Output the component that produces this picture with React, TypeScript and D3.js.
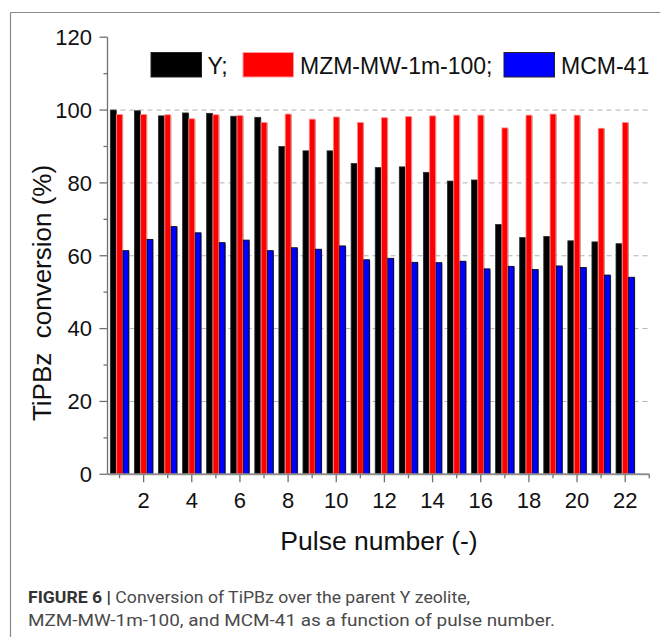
import * as d3 from "d3";

const pulses = [1, 2, 3, 4, 5, 6, 7, 8, 9, 10, 11, 12, 13, 14, 15, 16, 17, 18, 19, 20, 21, 22];
const seriesNames = ["Y;", "MZM-MW-1m-100;", "MCM-41"];
const yZeolite = [100.0, 99.8, 98.4, 99.2, 99.1, 98.3, 98.0, 90.0, 88.8, 88.8, 85.3, 84.2, 84.4, 82.9, 80.5, 80.8, 68.6, 65.0, 65.3, 64.1, 63.8, 63.3];
const mzm = [98.8, 98.8, 98.7, 97.6, 98.7, 98.5, 96.6, 98.9, 97.5, 98.1, 96.6, 97.9, 98.2, 98.4, 98.6, 98.6, 95.1, 98.6, 98.9, 98.6, 95.0, 96.6];
const mcm = [61.4, 64.5, 68.0, 66.3, 63.6, 64.3, 61.4, 62.2, 61.8, 62.7, 58.9, 59.3, 58.2, 58.1, 58.5, 56.4, 57.1, 56.2, 57.2, 56.8, 54.7, 54.1];
const yTicks = [0, 20, 40, 60, 80, 100, 120];
const yMinorTicks = [10, 30, 50, 70, 90, 110];
const xMajorTicks = [2, 4, 6, 8, 10, 12, 14, 16, 18, 20, 22];
const xMinorTicks = [1, 3, 5, 7, 9, 11, 13, 15, 17, 19, 21, 23];

const fills = ["#000000", "#ff0000", "#0000ff"];
const strokes = ["#2a2a2a", "#ff8c8c", "#000000"];

export default function App() {
  const width = 660;
  const height = 637;
  const left = 107.5;
  const right = 649.3;
  const bottom = 474.3;
  const top = 37.2;

  const x = d3.scaleLinear().domain([0.5, 23]).range([left, right]);
  const y = d3.scaleLinear().domain([0, 120]).range([bottom, top]);
  const inner = d3
    .scaleBand<number>()
    .domain([0, 1, 2])
    .range([-9.2, 9.2])
    .paddingInner(0.08);

  const series = [yZeolite, mzm, mcm];
  const font = "'Liberation Sans', Arial, sans-serif";
  const captionFont = "Roboto, 'Liberation Sans', sans-serif";

  // legend layout
  const legendSwatchX = [151, 243, 504];
  const legendTextX = [207.5, 300, 561];

  return (
    <div style={{ position: "absolute", left: 0, top: 0 }}>
      <svg width={width} height={height} style={{ display: "block" }} fontFamily={font}>
        <rect width={width} height={height} fill="#fff" />
        {/* figure frame */}
        <line x1={10.5} x2={width} y1={12.5} y2={12.5} stroke="#8a8a8a" strokeWidth={1.2} />
        <line x1={10.5} x2={10.5} y1={12.5} y2={height} stroke="#8a8a8a" strokeWidth={1.2} />

        {/* grid */}
        {yTicks
          .filter((t) => t > 0 && t < 120)
          .map((t) => (
            <line
              key={t}
              x1={left + 4}
              x2={right}
              y1={y(t)}
              y2={y(t)}
              stroke="#b0b0b0"
              strokeWidth={1}
              strokeDasharray="5 4"
            />
          ))}

        {/* bars */}
        {series.map((vals, si) =>
          vals.map((v, i) => {
            const bx = x(pulses[i]) + inner(si)!;
            const bw = inner.bandwidth();
            return (
              <g key={`${si}-${i}`}>
                <rect x={bx + 0.8} y={y(v) + 0.8} width={bw} height={bottom - y(v) - 0.8} fill="#9a9a9a" />
                <rect
                  x={bx}
                  y={y(v)}
                  width={bw}
                  height={bottom - y(v)}
                  fill={fills[si]}
                  stroke={strokes[si]}
                  strokeWidth={0.8}
                />
              </g>
            );
          })
        )}

        {/* y axis */}
        <line x1={left} x2={left} y1={top} y2={bottom} stroke="#707070" strokeWidth={1.3} />
        {yTicks.map((t) => (
          <g key={t}>
            <line x1={left - 8} x2={left} y1={y(t)} y2={y(t)} stroke="#707070" strokeWidth={1.3} />
            <text x={92} y={y(t) + 7.8} textAnchor="end" fontSize={22} fill="#111">
              {t}
            </text>
          </g>
        ))}
        {yMinorTicks.map((t) => (
          <line key={t} x1={left - 4} x2={left} y1={y(t)} y2={y(t)} stroke="#707070" strokeWidth={1.3} />
        ))}

        {/* x axis */}
        <line x1={left} x2={right} y1={bottom} y2={bottom} stroke="#909090" strokeWidth={2} />
        {xMajorTicks.map((t) => (
          <g key={t}>
            <line x1={x(t)} x2={x(t)} y1={bottom} y2={bottom + 8} stroke="#707070" strokeWidth={1.3} />
            <text x={x(t)} y={507.5} textAnchor="middle" fontSize={22} fill="#111">
              {t}
            </text>
          </g>
        ))}
        {xMinorTicks.map((t) => (
          <line key={t} x1={x(t)} x2={x(t)} y1={bottom} y2={bottom + 4} stroke="#707070" strokeWidth={1.3} />
        ))}

        {/* axis titles */}
        <text x={379} y={549.5} textAnchor="middle" fontSize={26.5} fill="#111">
          Pulse number (-)
        </text>
        <text
          transform="translate(50.5, 293) rotate(-90)"
          textAnchor="middle"
          fontSize={26}
          fill="#111"
          style={{ whiteSpace: "pre" }}
        >
          {"TiPBz  conversion (%)"}
        </text>

        {/* legend */}
        {seriesNames.map((name, si) => (
          <g key={name}>
            <rect
              x={legendSwatchX[si]}
              y={52.5}
              width={50.5}
              height={24.5}
              fill={fills[si]}
              stroke={si === 1 ? "#ff9a9a" : "#222"}
              strokeWidth={1}
            />
            <text x={legendTextX[si]} y={74} fontSize={23} fill="#111">
              {name}
            </text>
          </g>
        ))}

        {/* caption */}
        <text
          x={28}
          y={603}
          fontFamily={captionFont}
          fontSize={16}
          fill="#4a4a4a"
          textLength={442}
          lengthAdjust="spacingAndGlyphs"
        >
          <tspan fontWeight="bold" fill="#333">FIGURE 6 | </tspan>
          Conversion of TiPBz over the parent Y zeolite,
        </text>
        <text
          x={28}
          y={626}
          fontFamily={captionFont}
          fontSize={16}
          fill="#4a4a4a"
          textLength={527}
          lengthAdjust="spacingAndGlyphs"
        >
          MZM-MW-1m-100, and MCM-41 as a function of pulse number.
        </text>
      </svg>
    </div>
  );
}
